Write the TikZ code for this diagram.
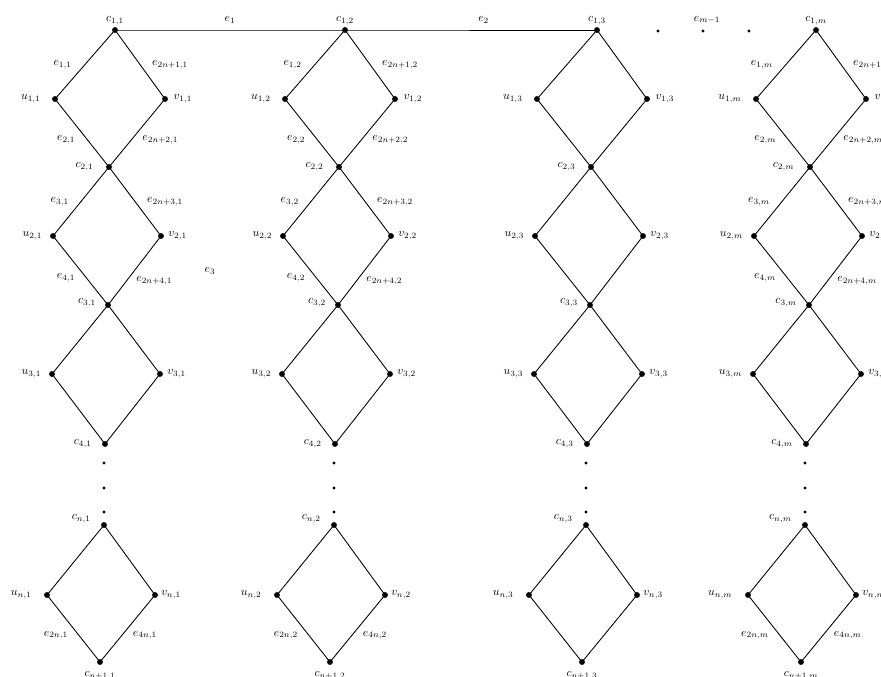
\documentclass[tikz,border=0pt]{standalone}
\usepackage{amsmath,amssymb}
\usepackage{tikz}
\usetikzlibrary{calc}

\begin{document}
\begin{tikzpicture}[x=0.3mm, y=-0.3mm, line width=0.75pt,
    lab/.style={inner sep=1pt},
    elab/.style={inner sep=1pt}]
    % 固定画布大小
    \useasboundingbox (0,0) rectangle (881,677);

    % 每一列的菱形链
    \foreach \x/\j/\lab in {115/1/1, 345/2/1, 597/3/0, 816/m/1} {
        % 顶点
        \coordinate (c1-\j) at (\x, 30);
        \coordinate (u1-\j) at (\x-60, 99);
        \coordinate (v1-\j) at (\x+50, 99);
        \coordinate (c2-\j) at (\x-6, 167);
        \coordinate (u2-\j) at (\x-62, 236);
        \coordinate (v2-\j) at (\x+46, 236);
        \coordinate (c3-\j) at (\x-7, 305);
        \coordinate (u3-\j) at (\x-63, 374);
        \coordinate (v3-\j) at (\x+45, 374);
        \coordinate (c4-\j) at (\x-10, 444);
        \coordinate (cn-\j) at (\x-11, 525);
        \coordinate (un-\j) at (\x-68, 595);
        \coordinate (vn-\j) at (\x+40, 595);
        \coordinate (cn1-\j) at (\x-15, 662);

        % 菱形的边
        \draw (c1-\j) -- (u1-\j) -- (c2-\j) -- (v1-\j) -- cycle;
        \draw (c2-\j) -- (u2-\j) -- (c3-\j) -- (v2-\j) -- cycle;
        \draw (c3-\j) -- (u3-\j) -- (c4-\j) -- (v3-\j) -- cycle;
        \draw (cn-\j) -- (un-\j) -- (cn1-\j) -- (vn-\j) -- cycle;

        % 顶点的圆点
        \foreach \p in {c1,u1,v1,c2,u2,v2,c3,u3,v3,c4,cn,un,vn,cn1} {
            \fill (\p-\j) circle (2.5pt);
        }
        % 省略号
        \foreach \d in {463,488,512} {
            \fill (\x-11, \d) circle (1.3pt);
        }

        % 顶点标注
        \node[lab, above=3pt] (lc1-\j) at (c1-\j) {$c_{1,\j}$};
        \node[lab, left=11pt] (lu1-\j) at (u1-\j) {$u_{1,\j}$};
        \node[lab, right=6pt] (lv1-\j) at (v1-\j) {$v_{1,\j}$};
        \node[lab, left=12pt] (lc2-\j) at (c2-\j) {$c_{2,\j}$};
        \node[lab, left=8pt] (lu2-\j) at (u2-\j) {$u_{2,\j}$};
        \node[lab, right=5pt] (lv2-\j) at (v2-\j) {$v_{2,\j}$};
        \node[lab, left=9pt, yshift=2pt] (lc3-\j) at (c3-\j) {$c_{3,\j}$};
        \node[lab, left=8pt] (lu3-\j) at (u3-\j) {$u_{3,\j}$};
        \node[lab, right=5pt] (lv3-\j) at (v3-\j) {$v_{3,\j}$};
        \node[lab, left=10pt] (lc4-\j) at (c4-\j) {$c_{4,\j}$};
        \node[lab, left=10pt, yshift=5pt] (lcn-\j) at (cn-\j) {$c_{n,\j}$};
        \node[lab, left=12pt] (lun-\j) at (un-\j) {$u_{n,\j}$};
        \node[lab, right=4pt] (lvn-\j) at (vn-\j) {$v_{n,\j}$};
        \node[lab, below=7pt] (lcn1-\j) at (cn1-\j) {$c_{n+1,\j}$};

        % 边的标注
        \ifnum\lab=1
            \path (c1-\j) -- node[elab, left=10pt] (le1-\j) {$e_{1,\j}$} (u1-\j);
            \path (c1-\j) -- node[elab, right=9pt] (lf1-\j) {$e_{2n+1,\j}$} (v1-\j);
            \path (u1-\j) -- node[elab, left=9pt, pos=0.6] (le2-\j) {$e_{2,\j}$} (c2-\j);
            \path (v1-\j) -- node[elab, right=8pt, pos=0.6] (lf2-\j) {$e_{2n+2,\j}$} (c2-\j);
            \path (c2-\j) -- node[elab, left=9pt] (le3-\j) {$e_{3,\j}$} (u2-\j);
            \path (c2-\j) -- node[elab, right=9pt] (lf3-\j) {$e_{2n+3,\j}$} (v2-\j);
            \path (u2-\j) -- node[elab, left=8pt, pos=0.6] (le4-\j) {$e_{4,\j}$} (c3-\j);
            \path (v2-\j) -- node[elab, right=7pt, pos=0.65] (lf4-\j) {$e_{2n+4,\j}$} (c3-\j);
            \path (un-\j) -- node[elab, left=8pt, pos=0.6] (len-\j) {$e_{2n,\j}$} (cn1-\j);
            \path (vn-\j) -- node[elab, right=8pt, pos=0.6] (lfn-\j) {$e_{4n,\j}$} (cn1-\j);
        \fi
    }

    % 顶部横线
    \draw (c1-1) -- node[elab, above=4pt] (le1) {$e_1$} (c1-2)
                 -- node[elab, above=4pt, pos=0.55] (le2) {$e_2$} (c1-3);
    % 横向省略号
    \foreach \d in {658,703,749} {
        \fill (\d, 31) circle (1.3pt);
    }
    \node[elab] (lem) at (707, 20) {$e_{m-1}$};
    \node[elab] (le3) at (210, 271) {$e_3$};
\end{tikzpicture}
\end{document}
